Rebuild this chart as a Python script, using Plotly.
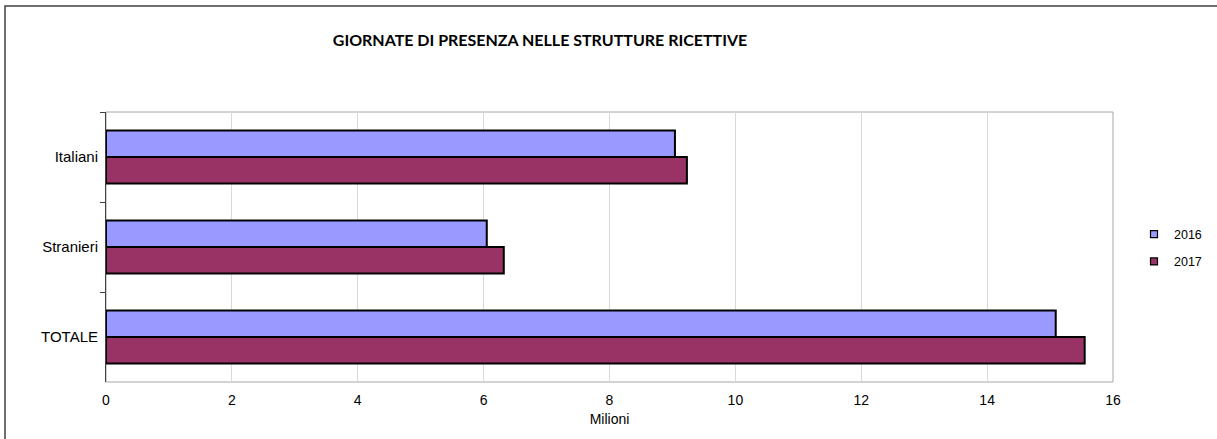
import plotly.graph_objects as go

categories = ["Italiani", "Stranieri", "TOTALE"]
years = ["2016", "2017"]
values_2016 = [9.04, 6.05, 15.09]
values_2017 = [9.23, 6.32, 15.55]
colors = {"2016": "#9999FF", "2017": "#993366"}
x_ticks = [0, 2, 4, 6, 8, 10, 12, 14, 16]

W, H = 1217, 439
L, R, T, B = 106, 104, 112, 57
pw, ph = W - L - R, H - T - B

fig = go.Figure()
for yr, vals in zip(years, [values_2016, values_2017]):
    fig.add_trace(go.Bar(
        y=categories, x=vals, orientation="h", name=yr,
        marker=dict(color=colors[yr], line=dict(color="#000000", width=2)),
        showlegend=False,
    ))
for yr in years:
    fig.add_trace(go.Scatter(
        x=[None], y=[None], mode="markers", name=yr, legendgroup=yr,
        marker=dict(symbol="square", size=7, color=colors[yr],
                    line=dict(color="#000000", width=1.2)),
    ))

fig.update_layout(
    width=W, height=H,
    margin=dict(l=L, r=R, t=T, b=B, autoexpand=False),
    paper_bgcolor="white", plot_bgcolor="white",
    barmode="group", bargap=0.41, bargroupgap=0,
    title=dict(text="<b>GIORNATE DI PRESENZA NELLE STRUTTURE RICETTIVE</b>",
               x=540 / W, xref="container", xanchor="center",
               y=1 - 40 / H, yref="container", yanchor="middle",
               font=dict(family="Lato", size=16, color="#000000")),
    font=dict(family="Liberation Sans", size=14, color="#000000"),
    legend=dict(x=(1134 - L) / pw, xanchor="left", y=(382 - 248) / ph,
                yanchor="middle",
                font=dict(family="Liberation Sans", size=12.5),
                itemwidth=30, traceorder="grouped", tracegroupgap=8,
                bgcolor="rgba(0,0,0,0)"),
    xaxis=dict(range=[0, 16], tickvals=x_ticks, showgrid=True,
               gridcolor="#D9D9D9", gridwidth=1, zeroline=False,
               showline=False, ticks="", ticklabelstandoff=8, automargin=False,
               title=dict(text="Milioni", standoff=7,
                          font=dict(family="Liberation Sans", size=14))),
    yaxis=dict(autorange="reversed", showline=True, linecolor="#404040",
               linewidth=1, ticks="outside", tickson="boundaries",
               ticklen=5, tickcolor="#404040", showgrid=False,
               tickfont=dict(size=15),
               ticklabelstandoff=4, automargin=False),
    shapes=[
        dict(type="rect", xref="paper", yref="paper", x0=0, x1=1, y0=0, y1=1,
             line=dict(color="#A6A6A6", width=1), layer="below"),
        dict(type="rect", xref="paper", yref="paper",
             x0=(5 - L) / pw, x1=(1230 - L) / pw,
             y0=-(H + 20 - (H - B)) / ph, y1=(H - B - 6) / ph,
             line=dict(color="#404040", width=1.5), layer="below"),
    ],
)

fig.write_html("out.html", config={"displayModeBar": False},
               post_script="document.body.style.margin='0';document.body.style.overflow='hidden';")
